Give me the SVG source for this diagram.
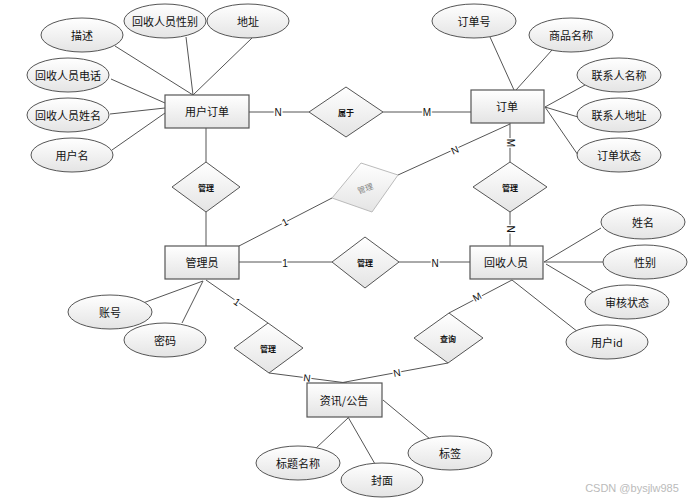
<svg xmlns="http://www.w3.org/2000/svg" width="691" height="502" viewBox="0 0 691 502">
<defs>
<linearGradient id="g" x1="0" y1="0" x2="0" y2="1">
<stop offset="0" stop-color="#ffffff"/>
<stop offset="1" stop-color="#e4e4e4"/>
</linearGradient>
<style>
.e{fill:url(#g);stroke:#555;stroke-width:1}
.r{fill:url(#g);stroke:#555;stroke-width:1.2}
.d{fill:url(#g);stroke:#555;stroke-width:1}
.dg{fill:url(#g);stroke:#bbb;stroke-width:1}
.l{stroke:#555;stroke-width:1;fill:none}
text{font-family:"Noto Sans CJK SC","Liberation Sans",sans-serif;fill:#111;text-anchor:middle;dominant-baseline:central}
.t{font-size:11px}
.tr{font-size:11px}
.td{font-size:8px;font-weight:bold}
.lb{font-family:"Liberation Sans",sans-serif;font-size:10px;stroke:#fff;stroke-width:3;paint-order:stroke}
</style>
</defs>
<rect width="691" height="502" fill="#fff"/>
<g id="connectors">
<line class="l" x1="115" y1="46" x2="193" y2="95"/>
<line class="l" x1="186" y1="37" x2="193" y2="95"/>
<line class="l" x1="252" y1="38" x2="193" y2="95"/>
<line class="l" x1="111" y1="79" x2="165" y2="103"/>
<line class="l" x1="110" y1="114" x2="165" y2="108"/>
<line class="l" x1="112" y1="150" x2="165" y2="113"/>
<line class="l" x1="249" y1="112" x2="309" y2="112"/>
<line class="l" x1="383" y1="112" x2="471" y2="112"/>
<line class="l" x1="206" y1="128" x2="206" y2="162"/>
<line class="l" x1="206" y1="212" x2="206" y2="246"/>
<line class="l" x1="239" y1="246" x2="332" y2="198"/>
<line class="l" x1="398" y1="175" x2="510" y2="124"/>
<line class="l" x1="490" y1="37" x2="514" y2="90"/>
<line class="l" x1="552" y1="50" x2="516" y2="90"/>
<line class="l" x1="585" y1="85" x2="545" y2="107"/>
<line class="l" x1="578" y1="117" x2="545" y2="107"/>
<line class="l" x1="578" y1="155" x2="545" y2="107"/>
<line class="l" x1="510" y1="123" x2="510" y2="162"/>
<line class="l" x1="510" y1="212" x2="510" y2="246"/>
<line class="l" x1="239" y1="262" x2="332" y2="262"/>
<line class="l" x1="399" y1="262" x2="470" y2="262"/>
<line class="l" x1="544" y1="262" x2="601" y2="228"/>
<line class="l" x1="544" y1="262" x2="603" y2="262"/>
<line class="l" x1="546" y1="264" x2="593" y2="292"/>
<line class="l" x1="512" y1="280" x2="578" y2="332"/>
<line class="l" x1="512" y1="280" x2="449" y2="313"/>
<line class="l" x1="448" y1="363" x2="340" y2="383"/>
<line class="l" x1="206" y1="280" x2="268" y2="323"/>
<line class="l" x1="269" y1="373" x2="347" y2="383"/>
<line class="l" x1="143" y1="303" x2="203" y2="281"/>
<line class="l" x1="182" y1="323" x2="203" y2="281"/>
<line class="l" x1="315" y1="449" x2="348" y2="418"/>
<line class="l" x1="375" y1="464" x2="348" y2="417"/>
<line class="l" x1="430" y1="439" x2="383" y2="400"/>
<text class="lb" x="278" y="112">N</text>
<text class="lb" x="427" y="112">M</text>
<text class="lb" x="285" y="222" transform="rotate(-27 285 222)">1</text>
<text class="lb" x="455" y="150" transform="rotate(-24 455 150)">N</text>
<text class="lb" x="510" y="143" transform="rotate(90 510 143)">M</text>
<text class="lb" x="510" y="229" transform="rotate(90 510 229)">N</text>
<text class="lb" x="285" y="263">1</text>
<text class="lb" x="435" y="263">N</text>
<text class="lb" x="477" y="297" transform="rotate(-28 477 297)">M</text>
<text class="lb" x="397" y="373" transform="rotate(-10 397 373)">N</text>
<text class="lb" x="237" y="302" transform="rotate(35 237 302)">1</text>
<text class="lb" x="307" y="378" transform="rotate(7 307 378)">N</text>
</g>
<g id="n-yonghudingdan"><rect class="r" x="165" y="95" width="84" height="33"/><text class="tr" x="207" y="111">用户订单</text></g>
<g id="a-miaoshu"><ellipse class="e" cx="82" cy="35" rx="41" ry="17"/><text class="t" x="82" y="35">描述</text></g>
<g id="a-xingbie1"><ellipse class="e" cx="165" cy="21" rx="41" ry="17"/><text class="t" x="165" y="21">回收人员性别</text></g>
<g id="a-dizhi"><ellipse class="e" cx="248" cy="21" rx="41" ry="17"/><text class="t" x="248" y="21">地址</text></g>
<g id="a-dianhua"><ellipse class="e" cx="68" cy="75" rx="41" ry="17"/><text class="t" x="68" y="75">回收人员电话</text></g>
<g id="a-xingming1"><ellipse class="e" cx="68" cy="115" rx="41" ry="17"/><text class="t" x="68" y="115">回收人员姓名</text></g>
<g id="a-yonghuming"><ellipse class="e" cx="72" cy="155" rx="41" ry="17"/><text class="t" x="72" y="155">用户名</text></g>
<g id="r-shuyu"><polygon class="d" points="309,112 346,87 383,112 346,137"/><text class="td" x="346" y="112">属于</text></g>
<g id="n-dingdan"><rect class="r" x="471" y="90" width="73" height="33"/><text class="tr" x="507" y="106">订单</text></g>
<g id="a-dingdanhao"><ellipse class="e" cx="474" cy="21" rx="42" ry="17"/><text class="t" x="474" y="21">订单号</text></g>
<g id="a-shangpin"><ellipse class="e" cx="571" cy="35" rx="42" ry="17"/><text class="t" x="571" y="35">商品名称</text></g>
<g id="a-lxrmc"><ellipse class="e" cx="619" cy="75" rx="42" ry="17"/><text class="t" x="619" y="75">联系人名称</text></g>
<g id="a-lxrdz"><ellipse class="e" cx="619" cy="115" rx="42" ry="17"/><text class="t" x="619" y="115">联系人地址</text></g>
<g id="a-ddzt"><ellipse class="e" cx="619" cy="155" rx="42" ry="17"/><text class="t" x="619" y="155">订单状态</text></g>
<g id="r-guanli1"><polygon class="d" points="172,187 206,162 240,187 206,212"/><text class="td" x="206" y="187">管理</text></g>
<g id="r-guanli-gray"><polygon class="dg" points="332,198 361,163 398,175 372,212"/><text class="td" x="365" y="188" style="fill:#888;font-weight:normal" transform="rotate(-20 365 188)">管理</text></g>
<g id="r-guanli2"><polygon class="d" points="473,187 510,162 547,187 510,212"/><text class="td" x="510" y="187">管理</text></g>
<g id="n-guanliyuan"><rect class="r" x="165" y="246" width="74" height="33"/><text class="tr" x="202" y="262">管理员</text></g>
<g id="r-guanli3"><polygon class="d" points="332,262 365,237 399,262 365,288"/><text class="td" x="365" y="262">管理</text></g>
<g id="n-huishou"><rect class="r" x="470" y="246" width="73" height="33"/><text class="tr" x="506" y="262">回收人员</text></g>
<g id="a-xingming2"><ellipse class="e" cx="643" cy="222" rx="42" ry="17"/><text class="t" x="643" y="222">姓名</text></g>
<g id="a-xingbie2"><ellipse class="e" cx="645" cy="262" rx="42" ry="17"/><text class="t" x="645" y="262">性别</text></g>
<g id="a-shenhe"><ellipse class="e" cx="627" cy="302" rx="42" ry="17"/><text class="t" x="627" y="302">审核状态</text></g>
<g id="a-yonghuid"><ellipse class="e" cx="607" cy="342" rx="41" ry="17"/><text class="t" x="607" y="342">用户id</text></g>
<g id="r-chaxun"><polygon class="d" points="414,338 449,313 483,338 448,363"/><text class="td" x="448" y="338">查询</text></g>
<g id="r-guanli4"><polygon class="d" points="234,348 268,323 303,348 269,373"/><text class="td" x="268" y="348">管理</text></g>
<g id="a-zhanghao"><ellipse class="e" cx="110" cy="312" rx="42" ry="17"/><text class="t" x="110" y="312">账号</text></g>
<g id="a-mima"><ellipse class="e" cx="165" cy="340" rx="41" ry="17"/><text class="t" x="165" y="340">密码</text></g>
<g id="n-zixun"><rect class="r" x="307" y="383" width="75" height="34"/><text class="tr" x="344" y="400">资讯/公告</text></g>
<g id="a-biaoti"><ellipse class="e" cx="298" cy="463" rx="42" ry="17"/><text class="t" x="298" y="463">标题名称</text></g>
<g id="a-fengmian"><ellipse class="e" cx="382" cy="480" rx="41" ry="17"/><text class="t" x="382" y="480">封面</text></g>
<g id="a-biaoqian"><ellipse class="e" cx="450" cy="453" rx="42" ry="17"/><text class="t" x="450" y="453">标签</text></g>
<text x="632" y="488" style="font-family:'Liberation Sans',sans-serif;font-size:11px;fill:#bbb">CSDN @bysjlw985</text>
</svg>
